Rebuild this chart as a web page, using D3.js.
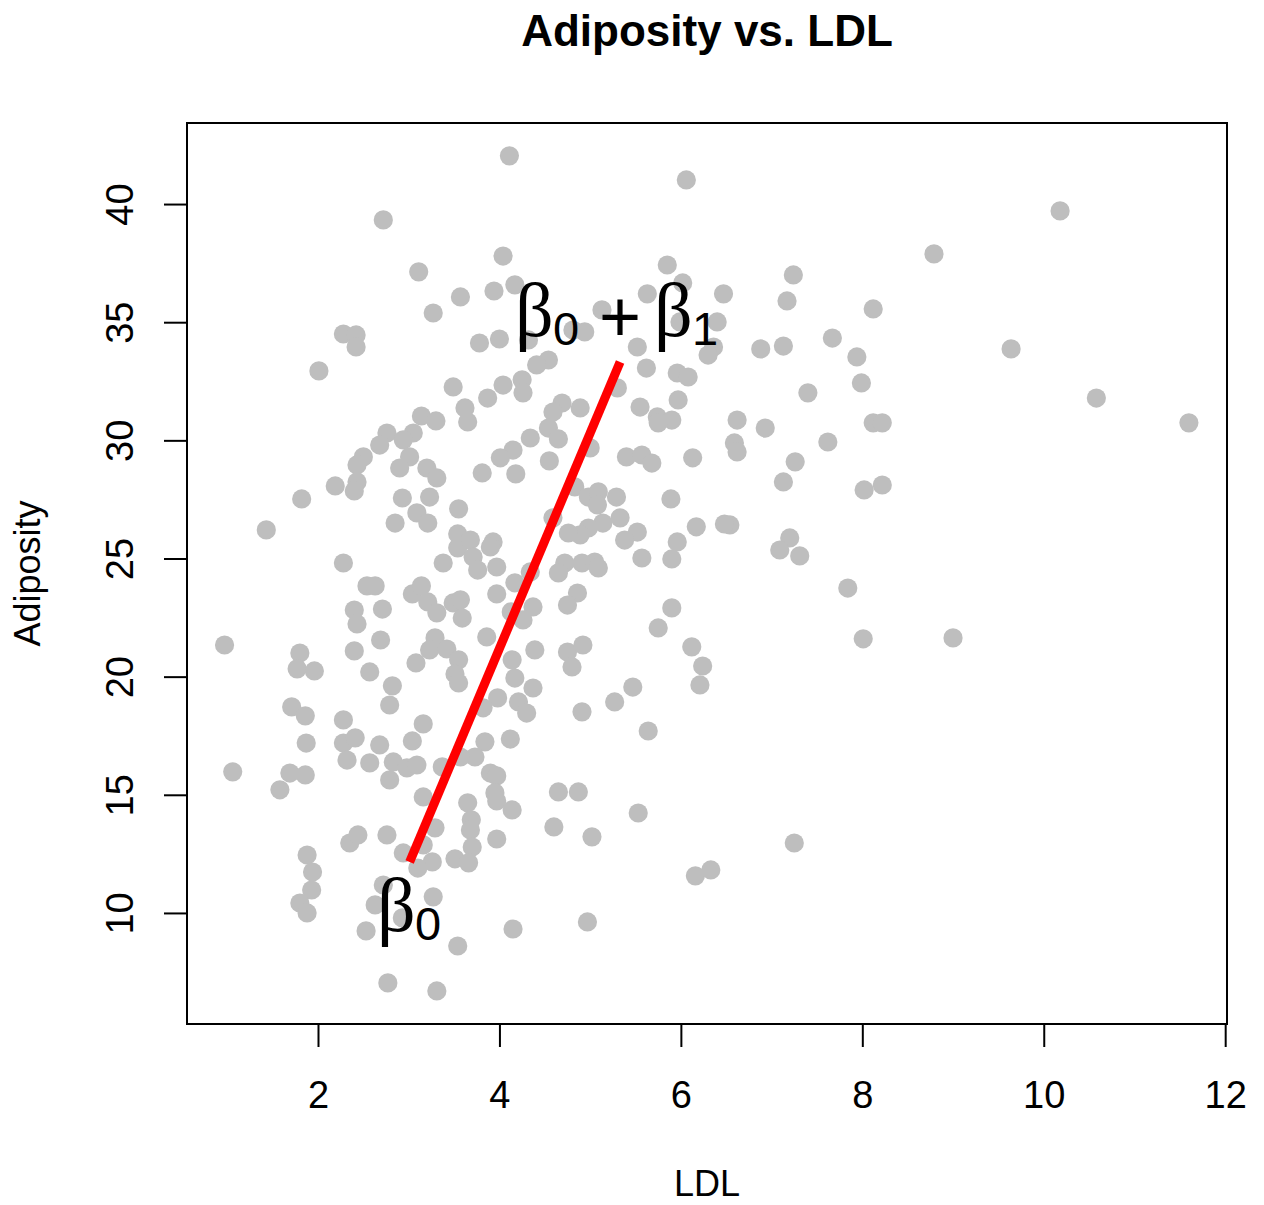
<!DOCTYPE html>
<html>
<head>
<meta charset="utf-8">
<script src="https://cdnjs.cloudflare.com/ajax/libs/d3/7.8.5/d3.min.js"></script>
<style>
  body { margin: 0; background: #fff; }
  text { font-family: "Liberation Sans", Arial, sans-serif; }
</style>
</head>
<body>
<svg id="chart"></svg>
<script>
// SAheart: ldl vs adiposity
var ldl = [4.11,6.06,2.72,10.18,8.79,4.04,5.85,3.11,7.24,6.02,4.17,3.94,3.57,6.47,5.63,7.17,8.12,5.13,3.27,6.40,
  5.99,4.81,4.94,2.28,2.42,2.42,4.32,3.78,4.00,5.52,6.36,6.30,4.54,4.41,5.62,5.96,6.08,2.01,4.04,4.25,
  4.26,3.49,3.87,5.30,4.69,4.59,4.89,5.55,5.97,3.62,3.14,3.30,5.74,5.90,6.62,4.54,4.34,6.88,7.13,7.67,
  7.94,9.64,7.99,7.40,10.58,11.60,6.93,8.12,8.22,6.59,6.62,7.62,7.26,7.13,8.02,8.22,6.54,7.20,7.09,7.31,
  7.84,8.01,9.00,7.25,3.65,2.76,3.05,2.94,2.68,2.50,2.43,3.01,2.90,3.20,3.31,2.43,2.40,2.19,1.82,3.23,
  2.93,1.43,2.85,3.09,3.21,3.55,3.54,3.54,3.38,2.28,2.54,2.63,3.04,3.14,3.21,3.31,3.49,2.40,2.43,2.71,
  2.69,2.40,0.97,3.29,3.23,3.42,3.08,3.55,3.51,3.55,1.80,1.77,1.96,2.57,2.82,2.79,1.71,1.86,2.28,3.16,
  5.75,4.65,5.00,4.15,4.01,5.40,5.57,5.68,6.13,3.81,4.18,4.55,4.83,4.98,5.09,5.29,5.08,5.89,5.33,5.14,
  4.98,4.89,4.76,5.52,5.38,6.17,6.48,5.96,3.68,3.93,3.90,3.71,3.76,3.97,4.59,5.57,5.90,4.72,4.91,5.05,
  5.09,4.65,4.17,4.34,3.97,4.86,4.75,3.57,3.59,4.37,4.26,4.13,5.90,5.75,3.86,4.39,4.75,4.92,4.80,6.12,
  6.24,6.21,4.14,4.17,4.37,5.47,3.98,5.27,4.21,3.82,4.30,4.91,5.64,4.12,3.84,3.73,3.57,3.90,3.97,4.65,
  4.87,3.95,3.97,3.65,4.14,5.53,3.69,3.68,4.60,5.02,3.97,3.70,3.51,3.66,6.16,6.33,4.97,4.15,3.54,2.28,
  1.87,2.41,2.68,3.04,2.32,2.57,2.83,2.98,3.09,2.79,3.37,1.06,1.69,1.86,1.58,3.16,2.35,2.44,2.76,1.88,
  2.94,3.16,3.29,3.26,3.10,1.94,1.93,1.80,1.88,2.72,2.63,3.27,2.93,2.53,2.77,3.31];
var adiposity = [42.04,41.02,39.33,39.71,37.89,37.80,37.42,37.13,37.00,36.66,36.58,36.32,36.07,36.20,36.20,35.90,35.56,35.52,35.39,35.01,
  35.01,34.67,34.59,34.50,34.46,33.95,34.25,34.12,34.29,33.95,33.95,33.61,33.40,33.19,33.06,32.85,32.68,32.94,32.34,32.56,
  32.01,32.26,31.79,32.22,31.58,31.20,31.37,31.41,31.71,31.37,31.03,30.82,30.99,30.86,30.86,30.52,30.10,33.87,33.99,34.33,
  33.53,33.87,32.43,32.01,31.79,30.74,30.52,30.74,30.74,29.89,29.51,29.93,29.09,28.24,27.90,28.11,26.42,25.87,25.36,25.11,
  23.75,21.60,21.64,12.96,30.78,30.31,30.31,30.02,29.80,29.30,28.96,29.30,28.83,28.83,28.41,28.24,27.86,28.07,27.52,27.60,
  27.56,26.21,26.50,26.93,26.50,27.10,26.04,25.45,24.81,24.81,23.84,23.84,23.50,23.84,23.16,22.70,23.12,22.82,22.23,22.86,
  21.55,21.09,21.34,21.64,21.13,21.17,20.58,20.71,20.11,19.73,21.00,20.33,20.24,20.20,19.61,18.80,18.72,18.34,18.17,18.00,
  30.74,30.06,29.68,29.59,29.26,29.30,29.38,29.04,29.26,28.62,28.58,29.13,28.03,27.60,27.82,27.60,27.27,27.52,26.72,26.50,
  26.29,26.00,26.08,26.12,25.78,26.34,26.46,25.70,25.78,25.70,25.49,25.06,24.51,24.64,26.72,25.02,24.98,24.81,24.81,24.85,
  24.60,24.39,23.97,24.43,23.50,23.54,23.03,23.25,22.48,22.95,22.40,22.74,22.91,22.06,21.68,21.13,21.04,21.34,20.41,21.26,
  20.45,19.65,20.71,19.94,19.52,19.56,19.10,18.93,18.93,18.68,18.46,18.51,17.70,17.36,17.24,16.60,16.60,15.92,15.80,15.12,
  15.12,15.08,14.74,14.66,14.36,14.23,13.94,13.51,13.64,13.22,13.13,12.79,12.29,12.12,11.57,11.82,9.62,9.32,8.60,17.19,
  17.19,17.41,17.11,17.28,16.47,16.35,16.39,16.14,16.26,15.63,16.18,15.97,15.92,15.84,15.21,14.91,12.96,13.30,13.30,12.45,
  12.54,12.88,13.60,12.16,11.90,11.73,10.97,10.42,10.00,11.18,10.34,10.68,9.79,9.24,7.04,6.70];

// fitted segment drawn between the two annotated points
var fitLdl = [3.01, 5.33];
var fitAdiposity = [12.16, 33.32];

var xTicks = [2, 4, 6, 8, 10, 12];
var yTicks = [10, 15, 20, 25, 30, 35, 40];

var W = 1264, H = 1205;
// (don't call these top/left - window.top is read-only)
var pLeft = 187, pRight = 1227, pTop = 123, pBottom = 1024;

var svg = d3.select("#chart")
  .attr("width", W)
  .attr("height", H);

var x = d3.scaleLinear().domain([0.556, 12.02]).range([pLeft, pRight]);
var y = d3.scaleLinear().domain([5.30, 43.43]).range([pBottom, pTop]);

// points
svg.append("g")
  .selectAll("circle")
  .data(ldl)
  .enter()
  .append("circle")
  .attr("cx", function(d){ return x(d); })
  .attr("cy", function(d, i){ return y(adiposity[i]); })
  .attr("r", 9.6)
  .style("fill", "#bebebe");

// red line
svg.append("line")
  .attr("x1", x(fitLdl[0]))
  .attr("y1", y(fitAdiposity[0]))
  .attr("x2", x(fitLdl[1]))
  .attr("y2", y(fitAdiposity[1]))
  .attr("stroke", "#ff0000")
  .attr("stroke-width", 9);

// box
svg.append("rect")
  .attr("x", pLeft)
  .attr("y", pTop)
  .attr("width", pRight - pLeft)
  .attr("height", pBottom - pTop)
  .attr("fill", "none")
  .attr("stroke", "#000")
  .attr("stroke-width", 2);

// axes
var xAxis = svg.append("g")
  .attr("transform", "translate(0," + pBottom + ")")
  .call(d3.axisBottom(x).tickValues(xTicks).tickSize(23).tickFormat(d3.format("d")));
xAxis.select(".domain").remove();
xAxis.selectAll("line").attr("stroke-width", 2);
xAxis.selectAll("text")
  .attr("y", 84)
  .attr("dy", 0)
  .style("font-size", "38px")
  .style("font-family", "Liberation Sans, Arial, sans-serif")
  .attr("fill", "#000");

var yAxis = svg.append("g")
  .attr("transform", "translate(" + pLeft + ",0)")
  .call(d3.axisLeft(y).tickValues(yTicks).tickSize(23).tickFormat(d3.format("d")));
yAxis.select(".domain").remove();
yAxis.selectAll("line").attr("stroke-width", 2);
yAxis.selectAll("text")
  .attr("transform", "rotate(-90)")
  .attr("x", 0)
  .attr("y", -54)
  .attr("dy", 0)
  .attr("text-anchor", "middle")
  .style("font-size", "38px")
  .style("font-family", "Liberation Sans, Arial, sans-serif")
  .attr("fill", "#000");

// title + labels
svg.append("text")
  .attr("x", (pLeft + pRight) / 2)
  .attr("y", 46)
  .attr("text-anchor", "middle")
  .style("font-size", "44px")
  .style("font-weight", "bold")
  .text("Adiposity vs. LDL");

svg.append("text")
  .attr("x", (pLeft + pRight) / 2)
  .attr("y", 1196)
  .attr("text-anchor", "middle")
  .style("font-size", "36px")
  .text("LDL");

svg.append("text")
  .attr("transform", "translate(40," + (pTop + pBottom) / 2 + ") rotate(-90)")
  .attr("text-anchor", "middle")
  .style("font-size", "36px")
  .text("Adiposity");

// beta annotations
function beta(bx, by, sub) {
  svg.append("text")
    .attr("x", bx)
    .attr("y", by)
    .style("font-family", "Liberation Serif, serif")
    .style("font-size", "76px")
    .text("\u03b2");
  svg.append("text")
    .attr("x", bx + 38)
    .attr("y", by + 9)
    .style("font-size", "47px")
    .text(sub);
}

beta(377, 931, "0");
beta(515, 336, "0");
svg.append("text")
  .attr("x", 620)
  .attr("y", 341)
  .attr("text-anchor", "middle")
  .style("font-size", "72px")
  .text("+");
beta(654, 336, "1");
</script>
</body>
</html>
